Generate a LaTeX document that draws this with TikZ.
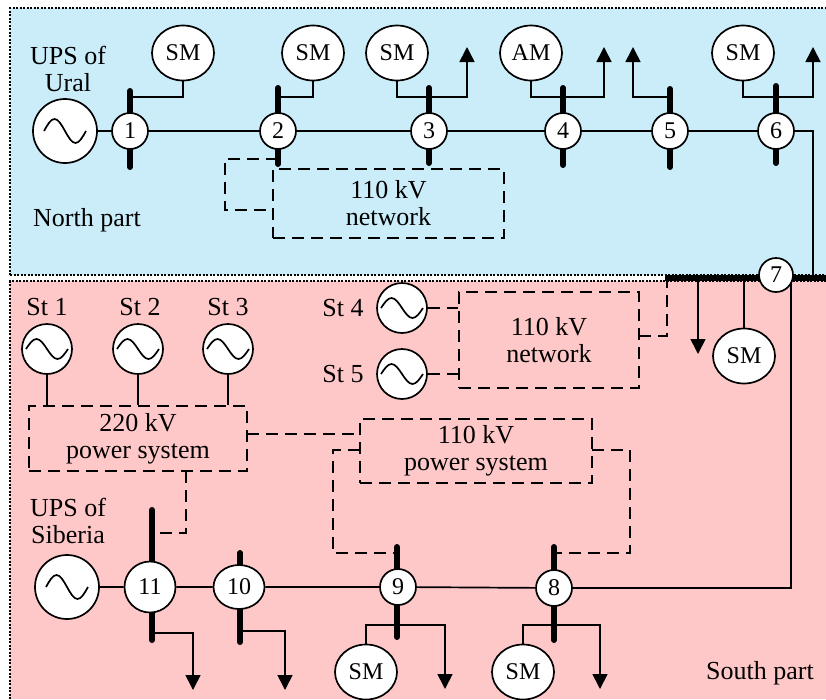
\documentclass[tikz,border=0pt]{standalone}
\usepackage{fontspec}
\setmainfont{Liberation Serif}
\usetikzlibrary{arrows.meta,shapes.geometric}
\definecolor{northbg}{RGB}{202,237,249}
\definecolor{southbg}{RGB}{255,200,200}
\pgfdeclarelayer{back}
\pgfdeclarelayer{lines}
\pgfsetlayers{back,lines,main}
\newcommand\acwave[3]{\draw[line width=1.7pt] ([xshift=-#2pt]#1.center) sin ++(#2*0.5,-#3) cos ++(#2*0.5,#3) sin ++(#2*0.5,#3) cos ++(#2*0.5,-#3);}
\begin{document}
\begin{tikzpicture}[x=1pt,y=-1pt,
  wire/.style={line width=1.7pt},
  busbar/.style={line width=6pt,line cap=round},
  dwire/.style={line width=1.7pt,dash pattern=on 12pt off 7pt},
  border/.style={line width=1.3pt,dash pattern=on 2pt off 1.5pt},
  busnode/.style={circle,draw,fill=white,line width=1.7pt,minimum size=#1,inner sep=0pt,font=\fontsize{24}{26}\selectfont},
  machine/.style={ellipse,draw,fill=white,line width=1.7pt,minimum width=62pt,minimum height=55pt,inner sep=0pt,font=\fontsize{24}{26}\selectfont},
  gen/.style={circle,draw,fill=white,line width=1.7pt,minimum size=#1,inner sep=0pt},
  lbl/.style={font=\fontsize{26}{27}\selectfont,align=center,inner sep=0pt},
  dbox/.style={draw,line width=1.7pt,dash pattern=on 12pt off 7pt,align=center,inner sep=0pt,font=\fontsize{26}{27}\selectfont},
  load/.style={wire,-{Triangle[width=15pt,length=15pt]}},
]
\useasboundingbox (0,0) rectangle (826,699);
% backgrounds
\begin{pgfonlayer}{back}
\fill[northbg] (10,8) rectangle (826,275);
\draw[border] (10,275) -- (10,8) -- (826,8);
\draw[border] (10,275) -- (826,275);
\fill[southbg] (10,281) rectangle (826,699);
\draw[border] (826,281) -- (10,281) -- (10,699);
\end{pgfonlayer}

% ---- North part nodes
\node[gen=64pt] (GU) at (65,131) {};
\acwave{GU}{21}{12}
\node[lbl] (lU) at (68,69) {UPS of\\Ural};
\node[lbl] (lN) at (87,220) {North part};
\node[busnode=36pt] (N1) at (130,131) {1};
\node[busnode=36pt] (N2) at (278,131) {2};
\node[busnode=36pt] (N3) at (429,131) {3};
\node[busnode=36pt] (N4) at (563,131) {4};
\node[busnode=36pt] (N5) at (670,131) {5};
\node[busnode=36pt] (N6) at (776,131) {6};
\node[machine] (SM1) at (183,53) {SM};
\node[machine] (SM2) at (313,53) {SM};
\node[machine] (SM3) at (397,53) {SM};
\node[machine] (AM4) at (531,53) {AM};
\node[machine] (SM6) at (743,53) {SM};
\node[dbox,minimum width=231pt,minimum height=69pt] (net1) at (388.5,203.5) {110 kV\\network};

% ---- South part nodes
\node[busnode=34pt] (N7) at (776,275) {7};
\node[machine] (SM7) at (744,356) {SM};
\node[dbox,minimum width=180pt,minimum height=96pt] (net2) at (549,340) {110 kV\\network};
\node[gen=50pt] (St4) at (402,308) {};
\acwave{St4}{21}{10}
\node[gen=50pt] (St5) at (402,374) {};
\acwave{St5}{21}{10}
\node[lbl] (lS4) at (343,308) {St 4};
\node[lbl] (lS5) at (343,374) {St 5};
\node[gen=50pt] (St1) at (47,349) {};
\acwave{St1}{21}{10}
\node[gen=50pt] (St2) at (138,349) {};
\acwave{St2}{21}{10}
\node[gen=50pt] (St3) at (228,349) {};
\acwave{St3}{21}{10}
\node[lbl] (lS1) at (47,307) {St 1};
\node[lbl] (lS2) at (140,307) {St 2};
\node[lbl] (lS3) at (228,307) {St 3};
\node[dbox,minimum width=218pt,minimum height=65pt] (ps220) at (138,438.5) {220 kV\\power system};
\node[dbox,minimum width=232pt,minimum height=64pt] (ps110) at (476,451) {110 kV\\power system};
\node[gen=64pt] (GS) at (67,587) {};
\acwave{GS}{21}{12}
\node[lbl] (lSib) at (68,521) {UPS of\\Siberia};
\node[busnode=51pt] (N11) at (150,587) {11};
\node[ellipse,draw,fill=white,line width=1.7pt,minimum width=51pt,minimum height=44pt,inner sep=0pt,font=\fontsize{24}{26}\selectfont] (N10) at (239,587) {10};
\node[busnode=36pt] (N9) at (398,587) {9};
\node[busnode=36pt] (N8) at (554,588) {8};
\node[machine] (SM9) at (366,672) {SM};
\node[machine] (SM8) at (523,672) {SM};
\node[lbl] (lSo) at (760,673) {South part};

% coordinates
\coordinate (b1t) at (130,91);  \coordinate (b1b) at (130,167);
\coordinate (b2t) at (278,88);  \coordinate (b2b) at (278,164);
\coordinate (b3t) at (429,88);  \coordinate (b3b) at (429,163);
\coordinate (b4t) at (563,88);  \coordinate (b4b) at (563,165);
\coordinate (b5t) at (670,89);  \coordinate (b5b) at (670,167);
\coordinate (b6t) at (776,86);  \coordinate (b6b) at (776,163);
\coordinate (b7l) at (665,278); \coordinate (b7r) at (826,278);
\coordinate (b11t) at (152,510); \coordinate (b11b) at (152,640);
\coordinate (b10t) at (240,553); \coordinate (b10b) at (240,642);
\coordinate (b9t) at (397,547); \coordinate (b9b) at (397,637);
\coordinate (b8t) at (554,547); \coordinate (b8b) at (554,640);
\coordinate (j1) at (130,97); \coordinate (j2) at (278,97);
\coordinate (j3) at (429,97); \coordinate (j4) at (563,97);
\coordinate (j5) at (670,97); \coordinate (j6) at (776,97);
\coordinate (a3) at (467,47); \coordinate (a4) at (604,47);
\coordinate (a5) at (633,47); \coordinate (a6) at (813,47);
\coordinate (k6) at (813,278);
\coordinate (k7a) at (698,278); \coordinate (a7) at (698,354);
\coordinate (k7b) at (744,278);
\coordinate (k7c) at (791,278);
\coordinate (d2) at (278,159); \coordinate (d2b) at (273,210);
\coordinate (n2r) at (639,336); \coordinate (k7d) at (667,278);
\coordinate (p220r) at (247,434); \coordinate (p110l) at (360,434);
\coordinate (p9a) at (360,450); \coordinate (p9b) at (397,553);
\coordinate (p8a) at (592,450); \coordinate (p8b) at (554,553);
\coordinate (p11a) at (186,471); \coordinate (p11b) at (152,533);
\coordinate (l11) at (152,633); \coordinate (a11) at (193,690);
\coordinate (l10) at (240,631); \coordinate (a10) at (285,690);
\coordinate (l9) at (397,625); \coordinate (a9) at (445,689);
\coordinate (l8) at (554,625); \coordinate (a8) at (600,689);

\begin{pgfonlayer}{lines}
% buses
\foreach \b in {1,2,3,4,5,6,11,10,9,8} \draw[busbar] (b\b t) -- (b\b b);
\draw[line width=6pt] (b7l) -- (b7r);
% north wires
\draw[wire] (GU) -- (N1) -- (N2) -- (N3) -- (N4) -- (N5) -- (N6);
\draw[wire] (j1) -| (SM1.south);
\draw[wire] (j2) -| (SM2.south);
\draw[load] (SM3.south) |- (j3) -| (a3);
\draw[load] (AM4.south) |- (j4) -| (a4);
\draw[load] (j5) -| (a5);
\draw[load] (SM6.south) |- (j6) -| (a6);
\draw[wire] (N6.east) -| (k6);
\draw[dwire] (d2) -- ++(-53,0) |- (d2b);
% south wires
\draw[load] (k7a) -- (a7);
\draw[wire] (k7b) -- (SM7.north);
\draw[wire] (k7c) |- (N8.east);
\draw[dwire] (St4.east) -- (net2.west |- St4);
\draw[dwire] (St5.east) -- (net2.west |- St5);
\draw[dwire] (n2r) -| (k7d);
\draw[wire] (St1.south) -- (St1 |- ps220.north);
\draw[wire] (St2.south) -- (St2 |- ps220.north);
\draw[wire] (St3.south) -- (St3 |- ps220.north);
\draw[dwire] (p220r) -- (p110l);
\draw[dwire] (p9a) -- ++(-27,0) |- (p9b);
\draw[dwire] (p8a) -- ++(38,0) |- (p8b);
\draw[dwire] (p11a) |- (p11b);
\draw[wire] (GS) -- (N11) -- (N10) -- (N9) -- (N8);
\draw[load] (l11) -| (a11);
\draw[load] (l10) -| (a10);
\draw[wire] (l9) -| (SM9.north);
\draw[load] (l9) -| (a9);
\draw[wire] (l8) -| (SM8.north);
\draw[load] (l8) -| (a8);
\end{pgfonlayer}
\end{tikzpicture}
\end{document}
